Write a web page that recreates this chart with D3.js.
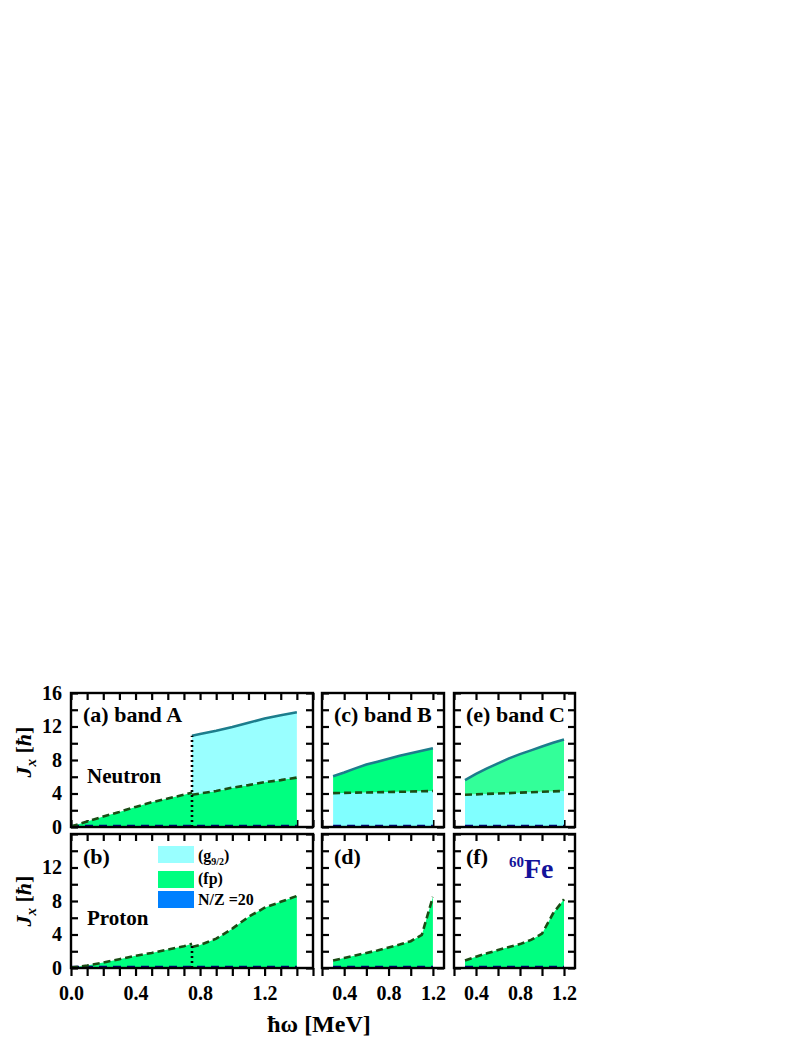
<!DOCTYPE html>
<html>
<head>
<meta charset="utf-8">
<script src="https://cdn.jsdelivr.net/npm/d3@7"></script>
<style>
  body { margin: 0; background: #fff; }
  text { font-family: 'Liberation Serif', 'Times New Roman', serif; font-weight: bold; }
</style>
</head>
<body>
<script>
// ---- data (Jx in units of hbar vs hbar*omega in MeV) ----

// band A is split at the crossing near 0.75 MeV
var omegaA1 = [0, 0.1, 0.2, 0.3, 0.4, 0.5, 0.6, 0.7, 0.75];
var omegaA2 = [0.75, 0.8, 0.9, 1.0, 1.1, 1.2, 1.3, 1.4];
var nzA1 = [0.12, 0.12, 0.12, 0.12, 0.12, 0.12, 0.12, 0.12, 0.12];
var nzA2 = [0.12, 0.12, 0.12, 0.12, 0.12, 0.12, 0.12, 0.12];
var neuFpA1 = [0.05, 0.65, 1.25, 1.8, 2.4, 2.95, 3.4, 3.85, 4.1];
var neuFpA2 = [3.85, 4.0, 4.3, 4.7, 5.0, 5.35, 5.6, 5.9];
var neuTotA2 = [10.9, 11.1, 11.5, 11.95, 12.45, 12.95, 13.35, 13.7];
var proFpA1 = [0.05, 0.3, 0.65, 1.05, 1.45, 1.8, 2.2, 2.6, 2.9];
var proFpA2 = [2.5, 2.75, 3.5, 4.7, 6.1, 7.2, 7.9, 8.6];

// bands B and C
var omegaBC = [0.3, 0.4, 0.5, 0.6, 0.7, 0.8, 0.9, 1.0, 1.1, 1.2];
var nzBC = [0.12, 0.12, 0.12, 0.12, 0.12, 0.12, 0.12, 0.12, 0.12, 0.12];
var neuG9B = [4.05, 4.07, 4.1, 4.12, 4.15, 4.18, 4.2, 4.23, 4.27, 4.3];
var neuTotB = [6.05, 6.5, 7.0, 7.45, 7.8, 8.15, 8.5, 8.8, 9.1, 9.4];
var proFpB = [0.9, 1.2, 1.5, 1.8, 2.1, 2.45, 2.8, 3.2, 3.95, 8.5];
var neuG9C = [3.85, 3.9, 3.95, 4.0, 4.05, 4.1, 4.15, 4.2, 4.25, 4.3];
var neuTotC = [5.6, 6.35, 7.0, 7.6, 8.2, 8.7, 9.15, 9.6, 10.05, 10.45];
var proFpC = [0.9, 1.35, 1.75, 2.15, 2.5, 2.85, 3.35, 4.1, 6.5, 8.2];

// tick labels
var xLabelsA = [0.0, 0.4, 0.8, 1.2];
var xLabelsBC = [0.4, 0.8, 1.2];
var yLabelsTop = [0, 4, 8, 12, 16];
var yLabelsBottom = [0, 4, 8, 12];

var legendNames = ['(g', '(fp)', 'N/Z =20'];

// colours
var colG9 = '#99ffff', colG9b = '#80ffff', colFp = '#00ff80', colFpC = '#33ff99', colNZ = '#0080ff';

var width = 808, height = 1045;
var svg = d3.select('body').append('svg')
  .attr('width', width)
  .attr('height', height);

var cols = [
  { x0: 71, x1: 313, dom: [0, 1.5], step: 0.1, labels: xLabelsA },
  { x0: 322, x1: 444, dom: [0.2, 1.3], step: 0.2, labels: xLabelsBC },
  { x0: 454, x1: 575, dom: [0.2, 1.3], step: 0.2, labels: xLabelsBC }
];
var rows = [
  { y0: 693, y1: 827, labels: yLabelsTop, titleY: 752 },
  { y0: 834, y1: 968, labels: yLabelsBottom, titleY: 901 }
];

function zip(om, lo, hi) {
  return om.map(function (w, i) { return { w: w, lo: lo ? lo[i] : 0, hi: hi[i] }; });
}

var panels = [
  { col: 0, row: 0, label: '(a) band A', sub: 'Neutron',
    areas: [
      { d: zip(omegaA1.concat(omegaA2), null, nzA1.concat(nzA2)), fill: colNZ },
      { d: zip(omegaA1, nzA1, neuFpA1), fill: colFp },
      { d: zip(omegaA2, nzA2, neuFpA2), fill: colFp },
      { d: zip(omegaA2, neuFpA2, neuTotA2), fill: colG9 }
    ],
    lines: [
      { om: omegaA1.concat(omegaA2), v: nzA1.concat(nzA2), type: 'nz' },
      { om: omegaA1, v: neuFpA1, type: 'fp' },
      { om: omegaA2, v: neuFpA2, type: 'fp' },
      { om: omegaA2, v: neuTotA2, type: 'tot' }
    ],
    cross: { w: omegaA2[0], top: neuTotA2[0] } },
  { col: 0, row: 1, label: '(b)', sub: 'Proton',
    areas: [
      { d: zip(omegaA1.concat(omegaA2), null, nzA1.concat(nzA2)), fill: colNZ },
      { d: zip(omegaA1, nzA1, proFpA1), fill: colFp },
      { d: zip(omegaA2, nzA2, proFpA2), fill: colFp }
    ],
    lines: [
      { om: omegaA1.concat(omegaA2), v: nzA1.concat(nzA2), type: 'nz' },
      { om: omegaA1, v: proFpA1, type: 'fp' },
      { om: omegaA2, v: proFpA2, type: 'fp' }
    ],
    cross: { w: omegaA1[omegaA1.length - 1], top: proFpA1[proFpA1.length - 1] } },
  { col: 1, row: 0, label: '(c) band B',
    areas: [
      { d: zip(omegaBC, null, nzBC), fill: colNZ },
      { d: zip(omegaBC, nzBC, neuG9B), fill: colG9b },
      { d: zip(omegaBC, neuG9B, neuTotB), fill: colFp }
    ],
    lines: [
      { om: omegaBC, v: nzBC, type: 'nz' },
      { om: omegaBC, v: neuG9B, type: 'fp' },
      { om: omegaBC, v: neuTotB, type: 'tot' }
    ] },
  { col: 1, row: 1, label: '(d)',
    areas: [
      { d: zip(omegaBC, null, nzBC), fill: colNZ },
      { d: zip(omegaBC, nzBC, proFpB), fill: colFp }
    ],
    lines: [
      { om: omegaBC, v: nzBC, type: 'nz' },
      { om: omegaBC, v: proFpB, type: 'fp' }
    ] },
  { col: 2, row: 0, label: '(e) band C',
    areas: [
      { d: zip(omegaBC, null, nzBC), fill: colNZ },
      { d: zip(omegaBC, nzBC, neuG9C), fill: colG9b },
      { d: zip(omegaBC, neuG9C, neuTotC), fill: colFpC }
    ],
    lines: [
      { om: omegaBC, v: nzBC, type: 'nz' },
      { om: omegaBC, v: neuG9C, type: 'fp' },
      { om: omegaBC, v: neuTotC, type: 'tot' }
    ] },
  { col: 2, row: 1, label: '(f)',
    areas: [
      { d: zip(omegaBC, null, nzBC), fill: colNZ },
      { d: zip(omegaBC, nzBC, proFpC), fill: colFp }
    ],
    lines: [
      { om: omegaBC, v: nzBC, type: 'nz' },
      { om: omegaBC, v: proFpC, type: 'fp' }
    ] }
];

var lineStyle = {
  tot: { stroke: '#1d7d8c', width: 2.6, dash: null },
  fp: { stroke: '#1a4d14', width: 2.6, dash: '7,4' },
  nz: { stroke: '#00007a', width: 2.6, dash: '8,6' }
};

function hasLabel(list, d) {
  return list.some(function (v) { return Math.abs(v - d) < 1e-6; });
}

function drawPanel(p) {
  var c = cols[p.col], r = rows[p.row];
  var x = d3.scaleLinear().domain(c.dom).range([c.x0, c.x1]);
  var y = d3.scaleLinear().domain([0, 16]).range([r.y1, r.y0]);
  var g = svg.append('g');

  var xt = d3.range(c.dom[0], c.dom[1] + 1e-6, c.step);
  var yt = d3.range(0, 16.001, 2);

  // ticks (drawn under the fills)
  g.append('g').attr('transform', 'translate(' + c.x0 + ',0)')
    .call(d3.axisLeft(y).tickValues(yt).tickSize(-7).tickPadding(9)
      .tickFormat(function (d) { return p.col === 0 && hasLabel(r.labels, d) ? d : ''; }));
  g.append('g').attr('transform', 'translate(' + c.x1 + ',0)')
    .call(d3.axisRight(y).tickValues(yt).tickSize(-7).tickFormat(''));
  g.append('g').attr('transform', 'translate(0,' + r.y0 + ')')
    .call(d3.axisTop(x).tickValues(xt).tickSize(-7).tickFormat(''));
  var bottom = g.append('g').attr('transform', 'translate(0,' + r.y1 + ')');
  if (p.row === 1) {
    bottom.call(d3.axisBottom(x).tickValues(xt).tickSize(8).tickPadding(10)
      .tickFormat(function (d) { return hasLabel(c.labels, d) ? d3.format('.1f')(d) : ''; }));
  } else {
    bottom.call(d3.axisBottom(x).tickValues(xt).tickSize(-7).tickFormat(''));
  }
  g.selectAll('.domain').remove();
  g.selectAll('.tick line').attr('stroke', '#000').attr('stroke-width', 2.2);
  g.selectAll('.tick text').attr('font-size', 20).attr('fill', '#000')
    .attr('font-family', "'Liberation Serif', serif").attr('font-weight', 'bold');

  var area = d3.area()
    .x(function (d) { return x(d.w); })
    .y0(function (d) { return y(d.lo); })
    .y1(function (d) { return y(d.hi); });

  g.selectAll('.band')
    .data(p.areas)
    .enter().append('path')
    .attr('class', 'band')
    .attr('d', function (a) { return area(a.d); })
    .attr('fill', function (a) { return a.fill; });

  var line = d3.line()
    .x(function (d) { return x(d.w); })
    .y(function (d) { return y(d.hi); });

  g.selectAll('.curve')
    .data(p.lines)
    .enter().append('path')
    .attr('class', 'curve')
    .attr('d', function (l) { return line(zip(l.om, null, l.v)); })
    .attr('fill', 'none')
    .attr('stroke', function (l) { return lineStyle[l.type].stroke; })
    .attr('stroke-width', function (l) { return lineStyle[l.type].width; })
    .attr('stroke-dasharray', function (l) { return lineStyle[l.type].dash; });

  if (p.cross) {
    g.append('line')
      .attr('x1', x(p.cross.w)).attr('x2', x(p.cross.w))
      .attr('y1', y(0)).attr('y2', y(p.cross.top))
      .attr('stroke', '#000')
      .attr('stroke-width', 2.6)
      .attr('stroke-dasharray', '2,3');
  }

  // frame
  g.append('rect')
    .attr('x', c.x0).attr('y', r.y0)
    .attr('width', c.x1 - c.x0).attr('height', r.y1 - r.y0)
    .attr('fill', 'none')
    .attr('stroke', '#000')
    .attr('stroke-width', 2.4);

  g.append('text')
    .attr('x', c.x0 + 12)
    .attr('y', p.row === 0 ? r.y0 + 29 : r.y0 + 30)
    .attr('font-size', 22)
    .text(p.label);

  if (p.sub) {
    g.append('text')
      .attr('x', c.x0 + 16)
      .attr('y', p.row === 0 ? 783 : 925)
      .attr('font-size', 21)
      .text(p.sub);
  }
}

panels.forEach(drawPanel);

// y titles
rows.forEach(function (r) {
  var t = svg.append('text')
    .attr('transform', 'translate(31,' + r.titleY + ') rotate(-90)')
    .attr('text-anchor', 'middle')
    .attr('font-size', 22);
  t.append('tspan').attr('font-style', 'italic').text('J');
  t.append('tspan').attr('font-style', 'italic').attr('font-size', 15).attr('dy', 5).text('x');
  t.append('tspan').attr('dy', -5).text(' [');
  t.append('tspan').attr('font-style', 'italic').text('ħ');
  t.append('tspan').text(']');
});

// x title
svg.append('text')
  .attr('x', 319).attr('y', 1032)
  .attr('text-anchor', 'middle')
  .attr('font-size', 24)
  .text('ħω [MeV]');

// legend inside panel (b)
var legendFills = [colG9, colFp, colNZ];
var legend = svg.append('g').attr('transform', 'translate(158,846)');
legend.selectAll('rect')
  .data(legendFills)
  .enter().append('rect')
  .attr('x', 0)
  .attr('y', function (d, i) { return [0, 25, 45][i]; })
  .attr('width', 36)
  .attr('height', 17)
  .attr('fill', function (d) { return d; });
var lt = legend.selectAll('text')
  .data(legendNames)
  .enter().append('text')
  .attr('x', 40)
  .attr('y', function (d, i) { return [15, 38, 59][i]; })
  .attr('font-size', 16)
  .text(function (d) { return d; });
d3.select(lt.nodes()[0]).append('tspan').attr('font-size', 10).attr('dy', 4).text('9/2');
d3.select(lt.nodes()[0]).append('tspan').attr('dy', -4).text(')');

// nucleus label
var fe = svg.append('text').attr('x', 509).attr('y', 878).attr('fill', '#13139a');
fe.append('tspan').attr('font-size', 15).attr('dy', -11).text('60');
fe.append('tspan').attr('font-size', 28).attr('dy', 11).text('Fe');
</script>
</body>
</html>
